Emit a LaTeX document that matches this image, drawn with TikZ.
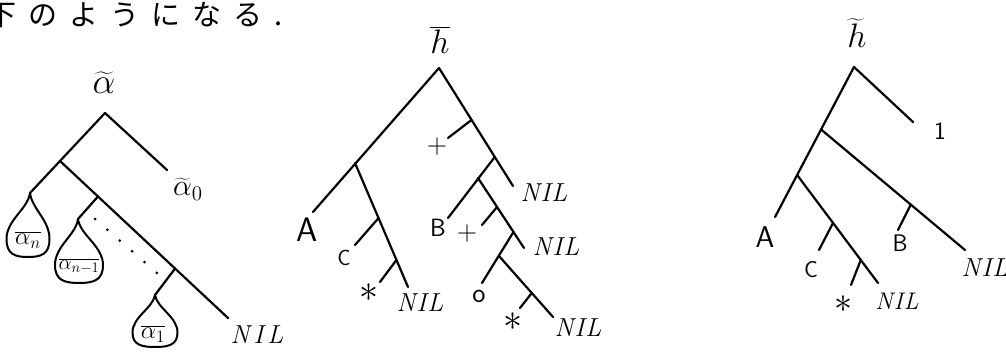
\documentclass[tikz,border=0pt]{standalone}
\usepackage{fix-cm}
\usepackage{fontspec}
\usetikzlibrary{calc}
\newfontfamily\cjk{Noto Sans CJK JP}
\newcommand\fs[1]{\fontsize{#1}{#1}\selectfont}
\newcommand\tdrop[6]{% name, tip x, tip y, bottom x, bottom y, half width
  \coordinate (#1) at (#2,#3);
  \draw[dropln] (#1) .. controls ({#2-2},{#3+0.25*(#5-#3)}) and ({#4-#6},{#5-0.58*(#5-#3)}) .. ({#4-#6},{#5-0.28*(#5-#3)})
    .. controls ({#4-#6},{#5-0.04*(#5-#3)}) and ({#4-0.6*#6},{#5}) .. (#4,#5)
    .. controls ({#4+0.6*#6},{#5}) and ({#4+#6},{#5-0.04*(#5-#3)}) .. ({#4+#6},{#5-0.28*(#5-#3)})
    .. controls ({#4+#6},{#5-0.58*(#5-#3)}) and ({#2+2},{#3+0.25*(#5-#3)}) .. (#1);
}
\tikzset{
  br/.style={line width=2.2pt, line cap=round},
  dropln/.style={line width=2pt, line join=round},
  dotln/.style={line width=3pt, line cap=round, dash pattern=on 0pt off 16.4pt},
  lbl/.style={inner sep=0pt},
  mth/.style={lbl, font=\fs{20}, scale=#1},
  let/.style={lbl, font=\sffamily\fs{#1}},
  nil/.style={lbl, font=\rmfamily\itshape\fs{26}},
}
\begin{document}
\begin{tikzpicture}[x=1pt,y=-1pt]
\useasboundingbox (0,0) rectangle (1006,358);

% heading text
\node[anchor=west, inner sep=0pt, font=\cjk\fs{29}] (jtxt) at (-13,15)
  {下\hspace{12pt}の\hspace{12pt}よ\hspace{12pt}う\hspace{12pt}に\hspace{12pt}な\hspace{12pt}る\hspace{12pt}.};

% ---------- left tree ----------
\node[mth=1.8] (atil) at (104,83) {$\widetilde{\alpha}$};
\coordinate (L0) at (105,113);
\coordinate (La) at (167,170);
\coordinate (L1) at (60,161);
\coordinate (Lnil) at (228,318);
\coordinate (L2) at ($(L1)!0.226!(Lnil)$);
\coordinate (L3) at ($(L1)!0.685!(Lnil)$);
\tdrop{Ldn}{30}{193}{28}{257}{21.5}
\tdrop{Ldn1}{78}{219}{79}{283}{24}
\tdrop{Ld1}{155}{295}{155}{347}{22.5}
\draw[br] (L0) -- (La);
\draw[br] (L0) -- (Ldn);
\draw[br] (L1) -- (Lnil);
\draw[br] (L2) -- (Ldn1);
\draw[br] (L3) -- (Ld1);
\coordinate (D1) at (95,219);
\coordinate (D2) at (157,273);
\draw[dotln] (D1) -- (D2);
\node[mth=1.5] (a0) at (188,189) {$\widetilde{\alpha}_0$};
\node[nil] (nilL) at (257,335) {N\kern4pt I\kern4pt L};
\node[mth=1.22] (an) at (28,240) {$\overline{\alpha_n}$};
\node[mth=1.05] (an1) at (79,266) {$\overline{\alpha_{n-1}}$};
\node[mth=1.22] (a1) at (153,334) {$\overline{\alpha_1}$};

% ---------- middle tree ----------
\node[mth=1.7] (hbar) at (440,40) {$\overline{h}$};
\coordinate (M0) at (439,68);
\coordinate (MA) at (313,212);
\coordinate (M1) at (355,163);
\coordinate (Mn1) at (408,287);
\coordinate (Mc) at ($(M1)!0.444!(Mn1)$);
\coordinate (Mce) at (355,245);
\coordinate (Ms) at ($(M1)!0.782!(Mn1)$);
\coordinate (Mse) at (380,282);
\coordinate (Mr) at (513,186);
\coordinate (Mp) at ($(M0)!0.44!(Mr)$);
\coordinate (Mpe) at (448,138);
\coordinate (Mb) at ($(M0)!0.754!(Mr)$);
\coordinate (Mb2) at (478,178);
\coordinate (MB) at (448,218);
\coordinate (Mn2) at (524,248);
\coordinate (Mp2) at ($(Mb2)!0.414!(Mn2)$);
\coordinate (Mp2e) at (482,225);
\coordinate (Mo) at ($(Mb2)!0.771!(Mn2)$);
\coordinate (Mo2) at (499,256);
\coordinate (Moe) at (482,283);
\coordinate (Mn3) at (553,317);
\coordinate (Ms2) at ($(Mo2)!0.607!(Mn3)$);
\coordinate (Ms2e) at (520,308);
\draw[br] (M0) -- (MA);
\draw[br] (M1) -- (Mn1);
\draw[br] (Mc) -- (Mce);
\draw[br] (Ms) -- (Mse);
\draw[br] (M0) -- (Mr);
\draw[br] (Mp) -- (Mpe);
\draw[br] (Mb) -- (MB);
\draw[br] (Mb2) -- (Mn2);
\draw[br] (Mp2) -- (Mp2e);
\draw[br] (Mo) -- (Moe);
\draw[br] (Mo2) -- (Mn3);
\draw[br] (Ms2) -- (Ms2e);
\node[let=34] (mA) at (307,230) {A};
\node[let=22] (mC) at (344,258) {C};
\node[mth=1.9] (mS1) at (369,293) {$\ast$};
\node[nil] (mN1) at (420,303) {N\kern1pt I\kern1pt L};
\node[let=28] (mP1) at (437,147) {+};
\node[nil] (mN2) at (544,193) {N\kern1pt I\kern1pt L};
\node[let=25] (mB) at (438,228) {B};
\node[let=28] (mP2) at (467,234) {+};
\node[nil] (mN3) at (556,247) {N\kern1pt I\kern1pt L};
\node[let=28] (mO) at (479,296) {o};
\node[mth=1.9] (mS2) at (513,322) {$\ast$};
\node[nil] (mN4) at (578,328) {N\kern1pt I\kern1pt L};

% ---------- right tree ----------
\node[mth=1.7] (htil) at (857,33) {$\widetilde{h}$};
\coordinate (R0) at (854,67);
\coordinate (R1) at (913,122);
\coordinate (RA) at (775,217);
\coordinate (Ra) at ($(R0)!0.4167!(RA)$);
\coordinate (Rb) at ($(R0)!0.72!(RA)$);
\coordinate (Rn1) at (965,250);
\coordinate (Rbb) at ($(Ra)!0.623!(Rn1)$);
\coordinate (Rbe) at (898,230);
\coordinate (Rn2) at (878,283);
\coordinate (Rc) at ($(Rb)!0.444!(Rn2)$);
\coordinate (Rce) at (819,250);
\coordinate (Rs) at ($(Rb)!0.787!(Rn2)$);
\coordinate (Rse) at (851,285);
\draw[br] (R0) -- (R1);
\draw[br] (R0) -- (RA);
\draw[br] (Ra) -- (Rn1);
\draw[br] (Rbb) -- (Rbe);
\draw[br] (Rb) -- (Rn2);
\draw[br] (Rc) -- (Rce);
\draw[br] (Rs) -- (Rse);
\node[let=25] (rOne) at (940,131) {1};
\node[let=30] (rA) at (765,237) {A};
\node[let=24] (rB) at (900,243) {B};
\node[nil] (rN1) at (985,268) {N\kern1pt I\kern1pt L};
\node[let=23] (rC) at (811,270) {C};
\node[mth=1.8] (rS) at (843,304) {$\ast$};
\node[nil, font=\rmfamily\itshape\fs{24}] (rN2) at (897,301) {N\kern1pt I\kern1pt L};
\end{tikzpicture}
\end{document}
